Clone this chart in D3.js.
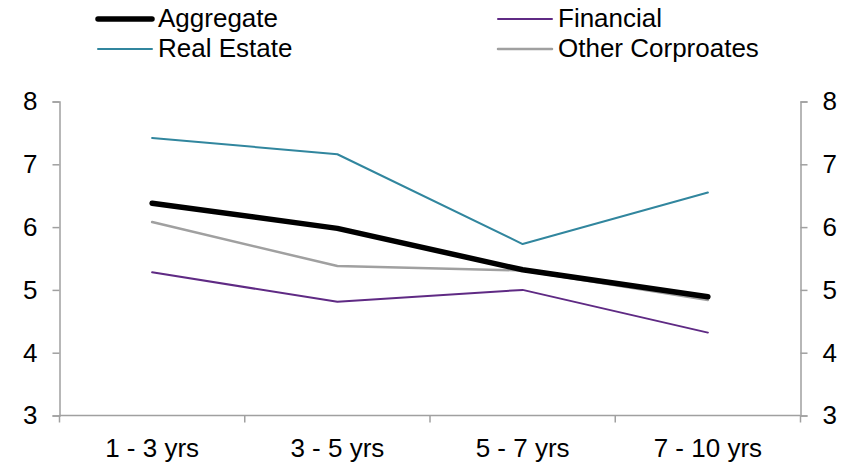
<!DOCTYPE html>
<html>
<head>
<meta charset="utf-8">
<script src="https://cdn.jsdelivr.net/npm/d3@7"></script>
<style>
  html, body { margin: 0; padding: 0; background: #fff; }
  svg { display: block; font-family: "Liberation Sans", Arial, sans-serif; }
</style>
</head>
<body>
<svg id="chart" width="854" height="464"></svg>
<script>
// Maturity buckets on the x axis
const categories = ["1 - 3 yrs", "3 - 5 yrs", "5 - 7 yrs", "7 - 10 yrs"];

// Yield by maturity bucket for each segment
const aggregate  = [6.38, 5.98, 5.32, 4.89];
const realEstate = [7.42, 7.16, 5.73, 6.55];
const financial  = [5.28, 4.81, 5.00, 4.32];
const otherCorp  = [6.08, 5.38, 5.31, 4.84];

const yTicks = [3, 4, 5, 6, 7, 8];

const series = [
  { name: "Aggregate",        values: aggregate,  color: "#000000", width: 5.5 },
  { name: "Financial",        values: financial,  color: "#5f2a84", width: 2 },
  { name: "Real Estate",      values: realEstate, color: "#31869e", width: 2 },
  { name: "Other Corproates", values: otherCorp,  color: "#a0a0a0", width: 2.5 }
];

const svg = d3.select("#chart");
const plot = { left: 59.5, right: 800.5, top: 101.5, bottom: 415.5 };
const axisColor = "#a0a0a0";
const fontSize = 26;

const x = d3.scaleBand().domain(categories).range([plot.left, plot.right]).paddingInner(0).paddingOuter(0);
const y = d3.scaleLinear().domain([3, 8]).range([plot.bottom, plot.top]);
const cx = c => x(c) + x.bandwidth() / 2;

// Left value axis
const yLeft = d3.axisLeft(y).tickValues(yTicks).tickSize(7).tickPadding(15).tickFormat(d3.format("d"));
const gl = svg.append("g").attr("transform", `translate(${plot.left},0)`).call(yLeft);
// Right value axis
const yRight = d3.axisRight(y).tickValues(yTicks).tickSize(7).tickPadding(15).tickFormat(d3.format("d"));
const gr = svg.append("g").attr("transform", `translate(${plot.right},0)`).call(yRight);

[gl, gr].forEach(g => {
  g.select(".domain").attr("stroke", axisColor).attr("stroke-width", 1.5);
  g.selectAll(".tick line").attr("stroke", axisColor).attr("stroke-width", 1.5);
  g.selectAll(".tick text").attr("fill", "#000").style("font-size", fontSize + "px")
    .style("font-family", "'Liberation Sans', Arial, sans-serif");
});

// Category axis along the bottom, with ticks at bucket boundaries
const gx = svg.append("g");
gx.append("line")
  .attr("x1", plot.left).attr("x2", plot.right)
  .attr("y1", y(3)).attr("y2", y(3))
  .attr("stroke", axisColor).attr("stroke-width", 1.5);
const boundaries = categories.map(c => x(c)).concat([x(categories[categories.length - 1]) + x.bandwidth()]);
gx.selectAll("line.bt").data(boundaries).join("line")
  .attr("class", "bt")
  .attr("x1", d => d).attr("x2", d => d)
  .attr("y1", y(3)).attr("y2", y(3) + 7)
  .attr("stroke", axisColor).attr("stroke-width", 1.5);
gx.selectAll("text").data(categories).join("text")
  .attr("x", d => cx(d)).attr("y", y(3) + 41.5)
  .attr("text-anchor", "middle")
  .style("font-size", fontSize + "px")
  .attr("fill", "#000")
  .text(d => d);

// Lines
const line = d3.line().x((d, i) => cx(categories[i])).y(d => y(d));
const drawOrder = ["Real Estate", "Financial", "Other Corproates", "Aggregate"];
drawOrder.forEach(n => {
  const s = series.find(t => t.name === n);
  svg.append("path")
    .datum(s.values)
    .attr("d", line)
    .attr("fill", "none")
    .attr("stroke", s.color)
    .attr("stroke-width", s.width)
    .attr("stroke-linejoin", "round")
    .attr("stroke-linecap", "round");
});

// Legend: two columns, two rows
const legendPos = [
  { name: "Aggregate",        lx: 98,  ly: 19 },
  { name: "Financial",        lx: 498, ly: 19 },
  { name: "Real Estate",      lx: 98,  ly: 49 },
  { name: "Other Corproates", lx: 498, ly: 49 }
];
const lg = svg.append("g");
legendPos.forEach(p => {
  const s = series.find(t => t.name === p.name);
  lg.append("line")
    .attr("x1", p.lx).attr("x2", p.lx + 54)
    .attr("y1", p.ly).attr("y2", p.ly)
    .attr("stroke", s.color).attr("stroke-width", s.width)
    .attr("stroke-linecap", "round");
  lg.append("text")
    .attr("x", p.lx + 60).attr("y", p.ly + 8)
    .style("font-size", fontSize + "px")
    .attr("fill", "#000")
    .text(s.name);
});
</script>
</body>
</html>
